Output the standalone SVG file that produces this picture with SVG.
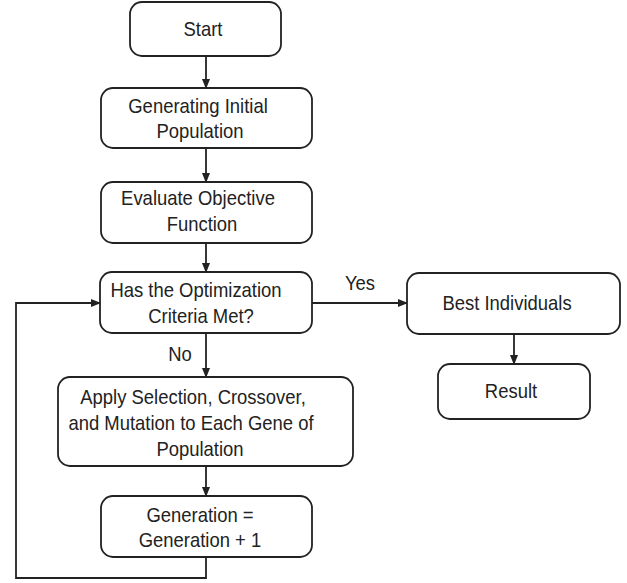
<svg xmlns="http://www.w3.org/2000/svg" width="627" height="583" viewBox="0 0 627 583">
<style>
.box{fill:#fff;stroke:#222;stroke-width:1.8}
.c{fill:none;stroke:#222;stroke-width:1.8}
text{font-family:"Liberation Sans",Arial,sans-serif;font-size:20.5px;fill:#222;text-anchor:middle}
</style>
<defs>
<marker id="ah" markerWidth="10" markerHeight="8" refX="9" refY="4" orient="auto" markerUnits="userSpaceOnUse">
<path d="M0,0 L10,4 L0,8 Z" fill="#222"/>
</marker>
</defs>
<rect width="627" height="583" fill="#fff"/>
<g id="connectors">
<line class="c" x1="206" y1="56" x2="206" y2="88" marker-end="url(#ah)"/>
<line class="c" x1="206" y1="148" x2="206" y2="182" marker-end="url(#ah)"/>
<line class="c" x1="206" y1="243" x2="206" y2="272" marker-end="url(#ah)"/>
<line class="c" x1="206" y1="333" x2="206" y2="377" marker-end="url(#ah)"/>
<line class="c" x1="206" y1="466" x2="206" y2="496" marker-end="url(#ah)"/>
<polyline class="c" points="206,557 206,578 16,578 16,303 100,303" marker-end="url(#ah)"/>
<line class="c" x1="312" y1="303" x2="407" y2="303" marker-end="url(#ah)"/>
<line class="c" x1="514" y1="334" x2="514" y2="364" marker-end="url(#ah)"/>
<text transform="translate(360 290) scale(0.9 1)">Yes</text>
<text transform="translate(180 361) scale(0.9 1)">No</text>
</g>
<g id="start">
<rect class="box" x="130" y="2" width="151" height="54" rx="12"/>
<text transform="translate(203 36) scale(0.9 1)">Start</text>
</g>
<g id="generating">
<rect class="box" x="101" y="88" width="211" height="60" rx="12"/>
<text transform="translate(198 112.5) scale(0.9 1)">Generating Initial</text>
<text transform="translate(200 138) scale(0.9 1)">Population</text>
</g>
<g id="evaluate">
<rect class="box" x="101" y="182" width="211" height="61" rx="12"/>
<text transform="translate(198 205) scale(0.9 1)">Evaluate Objective</text>
<text transform="translate(202 231) scale(0.9 1)">Function</text>
</g>
<g id="criteria">
<rect class="box" x="100" y="272" width="212" height="61" rx="12"/>
<text transform="translate(196 297) scale(0.9 1)">Has the Optimization</text>
<text transform="translate(201 323) scale(0.9 1)">Criteria Met?</text>
</g>
<g id="apply">
<rect class="box" x="58" y="377" width="295" height="89" rx="12"/>
<text transform="translate(193 404) scale(0.9 1)">Apply Selection, Crossover,</text>
<text transform="translate(191 430) scale(0.9 1)">and Mutation to Each Gene of</text>
<text transform="translate(200 456) scale(0.9 1)">Population</text>
</g>
<g id="generation">
<rect class="box" x="101" y="496" width="211" height="61" rx="12"/>
<text transform="translate(200 522) scale(0.9 1)">Generation =</text>
<text transform="translate(200 547) scale(0.9 1)">Generation + 1</text>
</g>
<g id="best">
<rect class="box" x="407" y="273" width="213" height="61" rx="12"/>
<text transform="translate(507 310) scale(0.9 1)">Best Individuals</text>
</g>
<g id="result">
<rect class="box" x="438" y="364" width="152" height="55" rx="12"/>
<text transform="translate(511 398) scale(0.9 1)">Result</text>
</g>
</svg>
